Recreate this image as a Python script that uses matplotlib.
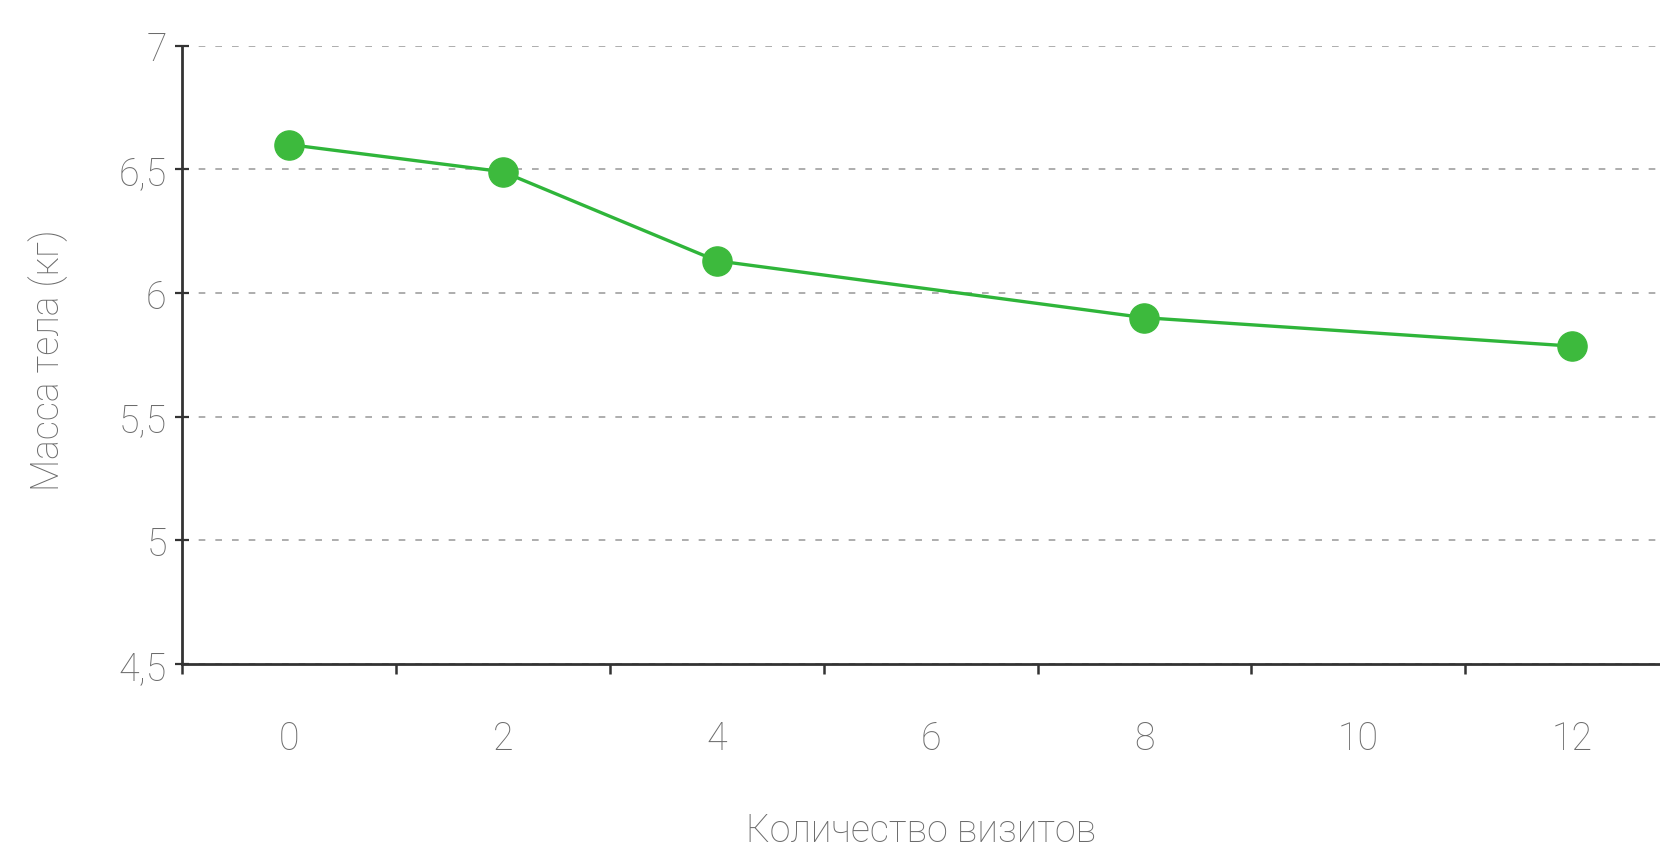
import matplotlib
matplotlib.use("Agg")
import matplotlib.pyplot as plt
from matplotlib.ticker import FixedLocator

# данные с графика
visits = ["0", "2", "4", "6", "8", "10", "12"]
measured = ["0", "2", "4", "8", "12"]
weight = [6.60, 6.49, 6.13, 5.90, 5.785]
y_ticks = [4.5, 5, 5.5, 6, 6.5, 7]
y_labels = ["4,5", "5", "5,5", "6", "6,5", "7"]

plt.rcParams["font.family"] = ["Roboto", "DejaVu Sans"]

text_color = "#6c6c6c"
green = "#3dba3d"

fig = plt.figure(figsize=(16.6, 8.53), dpi=100)
ax = fig.add_axes([0.1096, 0.2204, 0.8904, 0.725])

pos = {v: i for i, v in enumerate(visits)}
xs = [pos[v] for v in measured]
ax.plot(xs, weight, color="#2fb53a", linewidth=2.4, zorder=3,
        marker="o", markersize=21, markerfacecolor=green,
        markeredgecolor=green)

ax.set_xlim(-0.5, 6.41)
ax.set_ylim(4.5, 7)

ax.set_yticks(y_ticks)
ax.set_yticklabels(y_labels)
ax.set_xticks(range(len(visits)))
ax.set_xticklabels(visits)
ax.xaxis.set_minor_locator(FixedLocator([i - 0.5 for i in range(len(visits) + 1)]))

ax.tick_params(axis="x", which="major", length=0, pad=40,
               labelsize=27, labelcolor=text_color)
ax.tick_params(axis="x", which="minor", length=7, width=1.8,
               direction="out", color="#333333")
ax.tick_params(axis="y", which="major", length=10, width=1.6,
               direction="inout", color="#333333", pad=6,
               labelsize=27, labelcolor=text_color)
for lab in ax.get_xticklabels() + ax.get_yticklabels():
    lab.set_fontweight("light")

ax.grid(axis="y", linestyle=(0, (4, 6)), color="#a0a0a0", linewidth=1.2)
ax.set_axisbelow(True)

for s in ["top", "right"]:
    ax.spines[s].set_visible(False)
for s in ["left", "bottom"]:
    ax.spines[s].set_color("#333333")
    ax.spines[s].set_linewidth(2)

fig.text(0.029, 0.578, "Масса тела (кг)", rotation=90, ha="center",
         va="center", fontsize=27, color=text_color, fontweight="light")
fig.text(0.555, 0.026, "Количество визитов", ha="center", va="center",
         fontsize=27, color=text_color, fontweight="light")

fig.savefig("out.png", dpi=100)
